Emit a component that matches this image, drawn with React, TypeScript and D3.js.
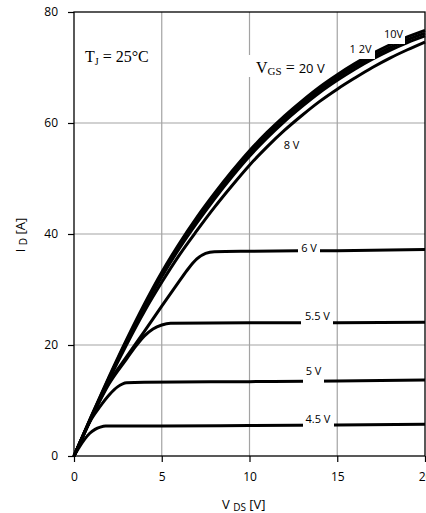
import * as d3 from "d3";
import { useEffect, useRef } from "react";

// output characteristics, I_D [A] vs V_DS [V]
const vgs20: [number, number][] = [[0, 0], [1, 7.3], [2, 14.3], [3, 21.0], [4, 27.3], [5, 33.1], [6, 38.3], [7, 43.0], [8, 47.3], [9, 51.3], [10, 55.0], [11, 58.3], [12, 61.3], [13, 64.0], [14, 66.5], [15, 68.7], [16, 70.7], [17, 72.5], [18, 74.1], [19, 75.5], [20, 76.7]];
const vgs12: [number, number][] = [[0, 0], [1, 7.2], [2, 14.1], [3, 20.8], [4, 27.0], [5, 32.7], [6, 37.9], [7, 42.5], [8, 46.8], [9, 50.8], [10, 54.5], [11, 57.8], [12, 60.8], [13, 63.5], [14, 66.0], [15, 68.2], [16, 70.2], [17, 72.0], [18, 73.6], [19, 75.0], [20, 76.2]];
const vgs10: [number, number][] = [[0, 0], [1, 7.1], [2, 14.0], [3, 20.5], [4, 26.7], [5, 32.3], [6, 37.4], [7, 42.0], [8, 46.3], [9, 50.3], [10, 54.0], [11, 57.3], [12, 60.3], [13, 63.0], [14, 65.5], [15, 67.7], [16, 69.7], [17, 71.5], [18, 73.1], [19, 74.5], [20, 75.7]];
const vgs8: [number, number][] = [[0, 0], [1, 7.0], [2, 13.8], [3, 20.1], [4, 26.0], [5, 31.3], [6, 36.2], [7, 40.6], [8, 44.8], [9, 48.7], [10, 52.4], [11, 55.7], [12, 58.7], [13, 61.4], [14, 63.9], [15, 66.1], [16, 68.1], [17, 70.0], [18, 71.7], [19, 73.2], [20, 74.6]];
const vgs6: [number, number][] = [[0, 0], [1, 7.0], [2, 13.3], [3, 17.9], [4, 22.4], [5, 27.0], [6, 31.5], [6.5, 33.7], [7, 35.5], [7.5, 36.5], [8, 36.8], [10, 36.9], [15, 37.0], [20, 37.2]];
const vgs55: [number, number][] = [[0, 0], [1, 6.9], [2, 13.0], [3, 17.5], [3.5, 19.7], [4, 21.6], [4.5, 22.9], [5, 23.6], [5.5, 23.9], [10, 24.0], [15, 24.0], [20, 24.1]];
const vgs5: [number, number][] = [[0, 0], [0.5, 3.5], [1, 6.7], [1.5, 9.0], [2, 11.0], [2.5, 12.5], [3, 13.2], [4, 13.3], [10, 13.4], [15, 13.5], [20, 13.7]];
const vgs45: [number, number][] = [[0, 0], [0.3, 1.6], [0.6, 3.0], [0.9, 4.1], [1.2, 4.8], [1.5, 5.2], [1.8, 5.4], [5, 5.4], [10, 5.5], [15, 5.6], [20, 5.7]];

const xTicks = [0, 5, 10, 15, 20];
const yTicks = [0, 20, 40, 60, 80];

const sans = "'Open Sans', 'DejaVu Sans', sans-serif";
const serif = "'Liberation Serif', 'DejaVu Serif', serif";

const App = () => {
  const ref = useRef<SVGSVGElement>(null);

  useEffect(() => {
    const svg = d3.select(ref.current);
    svg.selectAll("*").remove();

    const left = 74, right = 425, top = 12, bottom = 456;
    const x = d3.scaleLinear().domain([0, 20]).range([left, right]);
    const y = d3.scaleLinear().domain([0, 80]).range([bottom, top]);

    // grid
    const grid = svg.append("g").attr("stroke", "#a3a3a3").attr("stroke-width", 1.2);
    xTicks.slice(1, -1).forEach((t) => {
      grid.append("line").attr("x1", x(t)).attr("x2", x(t)).attr("y1", top).attr("y2", bottom);
    });
    yTicks.slice(1, -1).forEach((t) => {
      grid.append("line").attr("x1", left).attr("x2", right).attr("y1", y(t)).attr("y2", y(t));
    });

    const line = d3.line<[number, number]>()
      .x((d) => x(d[0]))
      .y((d) => y(d[1]))
      .curve(d3.curveMonotoneX);

    const curves = [vgs45, vgs5, vgs55, vgs6, vgs8, vgs10, vgs12, vgs20];
    svg.append("g")
      .selectAll("path")
      .data(curves)
      .enter()
      .append("path")
      .attr("d", (d) => line(d))
      .attr("fill", "none")
      .attr("stroke", "#000")
      .attr("stroke-width", 3)
      .attr("stroke-linejoin", "round");

    // white boxes behind curve labels
    const boxes = [
      [245, 55, 80, 22],
      [345, 40, 30, 19],
      [380, 26, 25, 18],
      [298, 242, 22, 12],
      [301, 311, 32, 15],
      [303, 366, 21, 18],
      [303, 413, 31, 15],
    ];
    svg.append("g")
      .selectAll("rect")
      .data(boxes)
      .enter()
      .append("rect")
      .attr("x", (d) => d[0])
      .attr("y", (d) => d[1])
      .attr("width", (d) => d[2])
      .attr("height", (d) => d[3])
      .attr("fill", "#fff");

    const small = [
      ["1 2V", 360.5, 53],
      ["10V", 393.5, 38],
      ["8 V", 291.5, 149],
      ["6 V", 309, 252],
      ["5.5 V", 317.5, 320],
      ["5 V", 313.5, 375],
      ["4.5 V", 318, 423],
    ];
    svg.append("g")
      .selectAll("text")
      .data(small)
      .enter()
      .append("text")
      .attr("x", (d) => d[1])
      .attr("y", (d) => d[2])
      .attr("text-anchor", "middle")
      .style("font-family", sans)
      .style("font-size", "11px")
      .text((d) => d[0] as string);

    const tj = svg.append("text").attr("x", 85).attr("y", 62)
      .style("font-family", serif).style("font-size", "16px");
    tj.append("tspan").text("T");
    tj.append("tspan").attr("dy", 3).style("font-size", "10px").text("J");
    tj.append("tspan").attr("dy", -3).text(" = 25°C");

    const vgs = svg.append("text").attr("x", 256).attr("y", 73)
      .style("font-family", serif).style("font-size", "16px");
    vgs.append("tspan").text("V");
    vgs.append("tspan").attr("dy", 2).style("font-size", "11px").text("GS");
    vgs.append("tspan").attr("dy", -2).text(" = ");
    vgs.append("tspan").style("font-family", sans).style("font-size", "13px").text("20 V");

    // axes
    const xAxis = svg.append("g")
      .attr("transform", `translate(0,${bottom})`)
      .call(d3.axisBottom(x).tickValues(xTicks).tickSize(6).tickPadding(10).tickFormat(d3.format("d")));
    const yAxis = svg.append("g")
      .attr("transform", `translate(${left},0)`)
      .call(d3.axisLeft(y).tickValues(yTicks).tickSize(6).tickPadding(10).tickFormat(d3.format("d")));
    [xAxis, yAxis].forEach((a) => {
      a.select(".domain").remove();
      a.selectAll("line").attr("stroke", "#000").attr("stroke-width", 1.2);
      a.selectAll("text").style("font-family", sans).style("font-size", "12px").attr("fill", "#000");
    });

    svg.append("rect")
      .attr("x", left).attr("y", top)
      .attr("width", right - left).attr("height", bottom - top)
      .attr("fill", "none").attr("stroke", "#000").attr("stroke-width", 1.3);

    const xl = svg.append("text").attr("x", 222).attr("y", 509)
      .style("font-family", sans).style("font-size", "13px");
    xl.append("tspan").text("V ");
    xl.append("tspan").attr("dy", 2).style("font-size", "10px").text("DS");
    xl.append("tspan").attr("dy", -2).text(" [V]");

    const yl = svg.append("text")
      .attr("transform", "translate(25,235) rotate(-90)")
      .attr("text-anchor", "middle")
      .style("font-family", sans).style("font-size", "13px");
    yl.append("tspan").text("I ");
    yl.append("tspan").attr("dy", 2).style("font-size", "10px").text("D");
    yl.append("tspan").attr("dy", -2).text(" [A]");
  }, []);

  return (
    <svg ref={ref} width={426} height={513}
      style={{ position: "absolute", left: 0, top: 0, background: "#fff" }} />
  );
};

export default App;
